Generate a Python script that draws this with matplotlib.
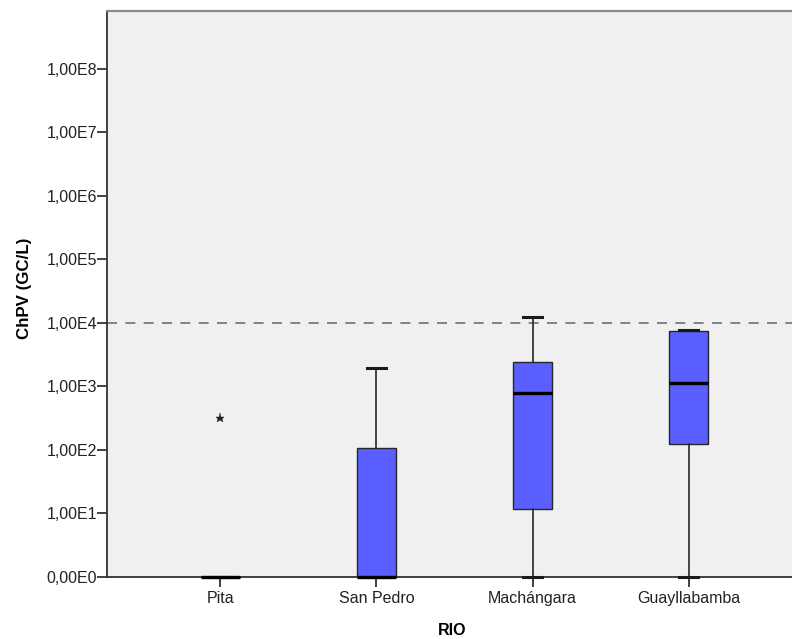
import numpy as np
import matplotlib
matplotlib.use("Agg")
import matplotlib.pyplot as plt
from matplotlib.ticker import FixedLocator, NullLocator

plt.rcParams['font.family'] = ['Liberation Sans', 'DejaVu Sans']

# Rivers and five-number summaries of ChPV concentration (GC/L)
rivers = ["Pita", "San Pedro", "Machángara", "Guayllabamba"]
whisker_low = [0, 0, 0, 0]
q1 = [0, 0, 11.6, 126]
median = [0, 0, 776, 1115]
q3 = [0, 107, 2390, 7350]
whisker_high = [0, 1915, 12200, 7600]
outliers = [[314], [], [], []]

# Reference threshold (dashed line)
threshold = 1.0e4

# Y axis tick values and labels
ytick_values = [1, 1e1, 1e2, 1e3, 1e4, 1e5, 1e6, 1e7, 1e8]
ytick_labels = ["0,00E0", "1,00E1", "1,00E2", "1,00E3", "1,00E4",
                "1,00E5", "1,00E6", "1,00E7", "1,00E8"]


def floor_one(v):
    # zero is shown on the baseline of the log axis
    return max(v, 1.0)


stats = []
for i, name in enumerate(rivers):
    stats.append(dict(
        label=name,
        whislo=floor_one(whisker_low[i]),
        q1=floor_one(q1[i]),
        med=floor_one(median[i]),
        q3=floor_one(q3[i]),
        whishi=floor_one(whisker_high[i]),
        fliers=[floor_one(f) for f in outliers[i]],
    ))

fig = plt.figure(figsize=(7.92, 6.39), dpi=100)
ax = fig.add_axes([107 / 792, 1 - 577 / 639, 695 / 792, 566 / 639])
ax.set_facecolor("#f0f0f0")

positions = np.arange(len(rivers))
ax.set_yscale("log")

ax.axhline(threshold, color="#707070", lw=1.2, ls=(0, (6, 5)), zorder=1)

parts = ax.bxp(
    stats, positions=positions, widths=0.25, patch_artist=True,
    capwidths=0.12, manage_ticks=False,
    boxprops=dict(facecolor="#5b5fff", edgecolor="#262626", lw=1.0),
    medianprops=dict(color="black", lw=2.4),
    whiskerprops=dict(color="#262626", lw=1.2),
    capprops=dict(color="#1a1a1a", lw=2.2),
    flierprops=dict(marker="*", markersize=6.5, markerfacecolor="#222222",
                    markeredgecolor="#222222", markeredgewidth=0.3),
    zorder=3,
)
# lines resting on the baseline stay fully visible
for key in ("medians", "caps", "whiskers", "boxes"):
    for artist in parts[key]:
        artist.set_clip_on(False)

ax.set_xlim(-0.724, 3.724)
ax.set_ylim(1, 10 ** 8.905)

ax.yaxis.set_major_locator(FixedLocator(ytick_values))
ax.yaxis.set_minor_locator(NullLocator())
ax.set_yticklabels(ytick_labels)
ax.set_xticks(positions)
ax.set_xticklabels(rivers)

ax.tick_params(axis="both", direction="out", length=7, width=1.3,
               color="#333333", labelsize=11.5, labelcolor="#222222")
ax.tick_params(axis="y", pad=0)
ax.tick_params(axis="x", pad=3)

for side in ("left", "bottom"):
    ax.spines[side].set_color("#333333")
    ax.spines[side].set_linewidth(1.3)
ax.spines["top"].set_color("#8a8a8a")
ax.spines["top"].set_linewidth(1.6)
ax.spines["right"].set_visible(False)

ax.set_ylabel("ChPV (GC/L)", fontsize=12.2, fontweight="bold")
ax.yaxis.set_label_coords(-(107 - 32) / 695, (577 - 288) / 566)
ax.set_xlabel("RIO", fontsize=11.5, fontweight="bold")
ax.xaxis.set_label_coords((452 - 107) / 695, -46 / 566)

fig.savefig("out.png", dpi=100)
